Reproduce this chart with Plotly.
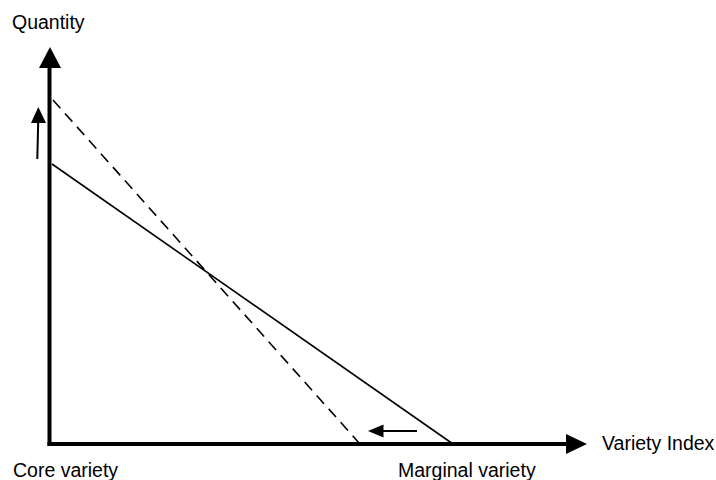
import plotly.graph_objects as go

# Demand schedules across the variety index (origin at the axis corner)
base_variety = [2.5, 403.5]
base_quantity = [280, 0]
shifted_variety = [3.5, 310.5]
shifted_quantity = [344, 0]

axis_labels = {"y": "Quantity", "x": "Variety Index"}
end_labels = ["Core variety", "Marginal variety"]

W, H = 716, 480
X0, Y0 = 49.5, 444  # pixel position of the origin

fig = go.Figure()

fig.add_trace(go.Scatter(
    x=base_variety, y=base_quantity, mode="lines",
    line=dict(color="black", width=1.6), hoverinfo="skip", showlegend=False,
))
fig.add_trace(go.Scatter(
    x=shifted_variety, y=shifted_quantity, mode="lines",
    line=dict(color="black", width=1.6, dash="11px,7px"),
    hoverinfo="skip", showlegend=False,
))

shapes = []
# axes
shapes.append(dict(type="line", x0=-2, y0=0, x1=518, y1=0,
                   line=dict(color="black", width=4)))
shapes.append(dict(type="line", x0=0, y0=-2, x1=0, y1=378,
                   line=dict(color="black", width=4)))
# axis arrowheads
shapes.append(dict(type="path", path="M 537.5 0 L 516.5 10 L 516.5 -10 Z",
                   fillcolor="black", line=dict(color="black", width=0)))
shapes.append(dict(type="path", path="M 0.5 397 L -10.5 376 L 11.5 376 Z",
                   fillcolor="black", line=dict(color="black", width=0)))
# shift arrows
shapes.append(dict(type="line", x0=-12.2, y0=285, x1=-11.3, y1=322,
                   line=dict(color="black", width=2)))
shapes.append(dict(type="path", path="M -11.2 337 L -18.5 321 L -3.5 321 Z",
                   fillcolor="black", line=dict(color="black", width=0)))
shapes.append(dict(type="line", x0=367.5, y0=13, x1=332, y1=13,
                   line=dict(color="black", width=2)))
shapes.append(dict(type="path", path="M 318.5 13 L 334 19.5 L 334 6.5 Z",
                   fillcolor="black", line=dict(color="black", width=0)))

font = dict(family="Liberation Sans, Arial, sans-serif", size=19.5, color="black")


def px(xp, yp):
    return xp - X0, Y0 - yp


annotations = []
for text, (xp, yp) in [
    (axis_labels["y"], (10, 22)),
    (axis_labels["x"], (600, 443)),
    (end_labels[0], (11, 470)),
    (end_labels[1], (396, 470)),
]:
    ax, ay = px(xp, yp)
    annotations.append(dict(x=ax, y=ay, text=text, showarrow=False,
                            xanchor="left", yanchor="middle", font=font))

fig.update_layout(
    width=W, height=H, autosize=False,
    margin=dict(l=0, r=0, t=0, b=0, pad=0),
    paper_bgcolor="white", plot_bgcolor="white",
    xaxis=dict(range=[-X0, W - X0], visible=False, fixedrange=True),
    yaxis=dict(range=[Y0 - H, Y0], visible=False, fixedrange=True),
    shapes=shapes, annotations=annotations, showlegend=False,
)

fig.write_html("out.html")
